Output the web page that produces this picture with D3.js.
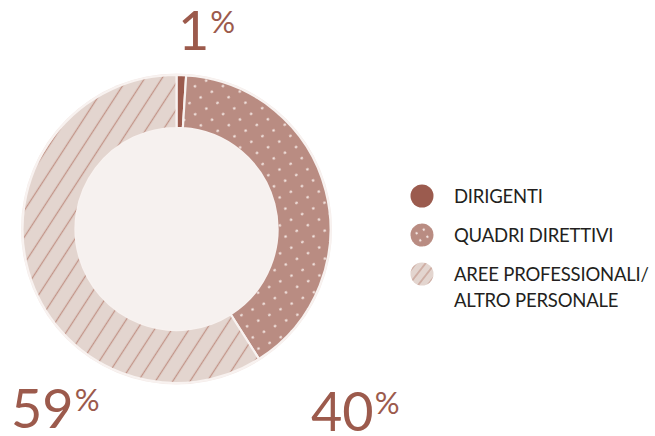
<!DOCTYPE html>
<html>
<head>
<meta charset="utf-8">
<script src="https://cdn.jsdelivr.net/npm/d3@7"></script>
<style>
  html, body { margin: 0; padding: 0; background: #ffffff; }
  svg { display: block; }
</style>
</head>
<body>
<svg id="chart" width="655" height="436"></svg>
<script>
// Staff composition by category (percent)
const categories = ["DIRIGENTI", "QUADRI DIRETTIVI", "AREE PROFESSIONALI/ ALTRO PERSONALE"];
const legendLines = [["DIRIGENTI"], ["QUADRI DIRETTIVI"], ["AREE PROFESSIONALI/", "ALTRO PERSONALE"]];
const values = [1, 40, 59];
const fills = ["#9b5b4e", "url(#dots)", "url(#hatch)"];
const legendFills = ["#9b5b4e", "url(#dotsSmall)", "url(#hatchSmall)"];

// Placement of the big percentage labels (left x, baseline y)
const labelAnchors = [[178, 50], [311, 431], [11, 428]];

const W = 655, H = 436;
const cx = 176.5, cy = 229, outerR = 154, innerR = 101;
const labelColor = "#9c5a4c";

const svg = d3.select("#chart");
const defs = svg.append("defs");

function dotPattern(id, size, r, angle) {
  const p = defs.append("pattern")
    .attr("id", id).attr("patternUnits", "userSpaceOnUse")
    .attr("width", size).attr("height", size)
    .attr("patternTransform", `rotate(${angle})`);
  p.append("rect").attr("width", size).attr("height", size).attr("fill", "#b98c82");
  p.append("circle").attr("cx", size / 2).attr("cy", size / 2).attr("r", r).attr("fill", "#f4e7e3");
}
function hatchPattern(id, size, angle, sw) {
  const p = defs.append("pattern")
    .attr("id", id).attr("patternUnits", "userSpaceOnUse")
    .attr("width", size).attr("height", size)
    .attr("patternTransform", `rotate(${angle})`);
  p.append("rect").attr("width", size).attr("height", size).attr("fill", "#e3d5cf");
  p.append("line").attr("x1", size / 2).attr("y1", 0).attr("x2", size / 2).attr("y2", size)
    .attr("stroke", "#c29488").attr("stroke-width", sw);
}
dotPattern("dots", 12.5, 1.3, -27);
dotPattern("dotsSmall", 8, 1.2, -27);
hatchPattern("hatch", 14.5, 33, 1.3);
hatchPattern("hatchSmall", 7.5, 38, 1.1);

const pie = d3.pie().sort(null).value(d => d).startAngle(0).endAngle(2 * Math.PI);
const arc = d3.arc().innerRadius(innerR).outerRadius(outerR);

const g = svg.append("g").attr("transform", `translate(${cx},${cy})`);

// Soft outer halo
g.append("circle").attr("r", outerR + 1.5).attr("fill", "#f4ebe8");

g.selectAll("path.slice")
  .data(pie(values))
  .join("path")
  .attr("class", "slice")
  .attr("d", arc)
  .attr("fill", (d, i) => fills[i])
  .attr("stroke", "#f8f2f0")
  .attr("stroke-width", 2.2);

// Inner disc
g.append("circle").attr("r", innerR).attr("fill", "#f6f1ef");

// Percentage labels
const lab = svg.selectAll("text.pct")
  .data(values)
  .join("text")
  .attr("class", "pct")
  .attr("x", (d, i) => labelAnchors[i][0])
  .attr("y", (d, i) => labelAnchors[i][1])
  .attr("fill", labelColor)
  .style("font-family", "Lato, 'Open Sans', sans-serif")
  .style("font-weight", 400);
lab.append("tspan").attr("font-size", 54).text(d => d);
lab.append("tspan").attr("font-size", 31).attr("dx", 1).attr("dy", -17.5).text("%");

// Legend
const legend = svg.append("g");
const legendY = [196, 235, 274];
legendLines.forEach((lines, i) => {
  const row = legend.append("g").attr("transform", `translate(422,${legendY[i]})`);
  row.append("circle").attr("r", 11.5).attr("fill", legendFills[i]);
  const t = row.append("text")
    .attr("x", 32).attr("y", 7)
    .attr("fill", "#231f20")
    .style("font-family", "Lato, 'Open Sans', sans-serif")
    .style("letter-spacing", "-0.2px")
    .attr("font-size", 18.5);
  lines.forEach((ln, j) => {
    t.append("tspan").attr("x", 32).attr("dy", j === 0 ? 0 : 25.5).text(ln);
  });
});
</script>
</body>
</html>
